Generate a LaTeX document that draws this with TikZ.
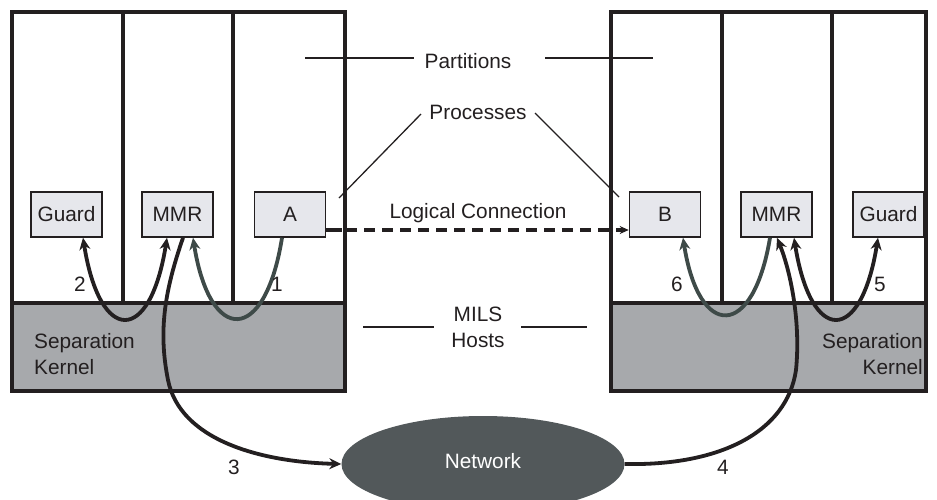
\documentclass[tikz,border=0pt]{standalone}
\usepackage{fontspec}
\setmainfont{Liberation Sans}
\usetikzlibrary{arrows.meta,shapes.geometric}
\definecolor{boxfill}{HTML}{E6E7EC}
\definecolor{kernelgray}{HTML}{A7A9AC}
\definecolor{netgray}{HTML}{52585A}
\definecolor{flowgray}{HTML}{3E4A48}
\definecolor{inkc}{HTML}{231F20}
\tikzset{
  every node/.style={font=\fontsize{20.8}{26}\selectfont, text=inkc},
  host/.style={line width=4pt, draw=inkc},
  divider/.style={line width=3.4pt, draw=inkc},
  procbox/.style={draw=inkc, line width=1.6pt, fill=boxfill, minimum width=71pt, minimum height=45pt, inner sep=0pt},
  leader/.style={line width=1.3pt, draw=inkc},
  flow/.style={line width=3.8pt, draw=inkc, -{Stealth[length=12pt,width=11pt]}},
  flowboth/.style={line width=3.8pt, draw=inkc, {Stealth[length=12pt,width=11pt]}-{Stealth[length=12pt,width=11pt]}},
  flowg/.style={line width=3.8pt, draw=flowgray, -{Stealth[length=12pt,width=11pt]}},
  steplabel/.style={inner sep=0pt}
}
\begin{document}
\begin{tikzpicture}[x=1pt,y=-1pt]
\useasboundingbox (0,0) rectangle (937,499);

% left host
\fill[kernelgray] (12,303) rectangle (345,391);
\draw[divider] (123,12) -- (123,303);
\draw[divider] (233,12) -- (233,303);
\draw[divider] (12,303) -- (345,303);
\draw[host] (12,12) rectangle (345,391);

% right host
\fill[kernelgray] (611,303) rectangle (926,391);
\draw[divider] (722,12) -- (722,303);
\draw[divider] (832,12) -- (832,303);
\draw[divider] (611,303) -- (926,303);
\draw[host] (611,12) rectangle (926,391);

% kernel captions
\node[anchor=north west, align=left, inner sep=0pt] (skl) at (34,333) {Separation\\Kernel};
\node[anchor=north east, align=right, inner sep=0pt] (skr) at (923,333) {Separation\\Kernel};

% processes
\node[procbox] (guardL) at (66.5,214.5) {Guard};
\node[procbox] (mmrL) at (177.5,214.5) {MMR};
\node[procbox] (procA) at (290,214.5) {A};
\node[procbox] (procB) at (665,214.5) {B};
\node[procbox] (mmrR) at (776.5,214.5) {MMR};
\node[procbox] (guardR) at (888.5,214.5) {Guard};

% network
\node[ellipse, fill=netgray, minimum width=283pt, minimum height=96pt, text=white] (net) at (483,464) {};
\node[text=white] (netlabel) at (483,461) {Network};

% annotations
\node (partitions) at (468,61) {Partitions};
\node (processes) at (478,112) {Processes};
\node (logical) at (478,213) {Logical Connection};
\node[align=center, inner sep=0pt, anchor=north] (mils) at (478,307) {MILS\\Hosts};

\coordinate (pl1) at (305,58);  \coordinate (pl2) at (414,58);
\coordinate (pr1) at (545,58);  \coordinate (pr2) at (653,58);
\draw[leader] (pl1) -- (pl2);
\draw[leader] (pr1) -- (pr2);
\coordinate (ql1) at (421,114); \coordinate (ql2) at (339,198);
\coordinate (qr1) at (535,113); \coordinate (qr2) at (619,197);
\draw[leader] (ql1) -- (ql2);
\draw[leader] (qr1) -- (qr2);
\coordinate (ml1) at (363,327); \coordinate (ml2) at (434,327);
\coordinate (mr1) at (521,327); \coordinate (mr2) at (587,327);
\draw[leader] (ml1) -- (ml2);
\draw[leader] (mr1) -- (mr2);

% logical connection A -> B
\coordinate (lcA) at (procA.east |- 0,230);
\coordinate (lcS) at (342,230);
\coordinate (lcB) at (procB.west |- 0,230);
\draw[line width=3.6pt, draw=inkc] (lcA) -- (lcS);
\draw[line width=3.6pt, draw=inkc, dash pattern=on 11pt off 7pt, dash phase=-4pt, -{Stealth[length=9pt,width=8pt]}] (lcS) -- (lcB);

% message flows, left host
\draw[flowg] (procA.south -| 282,0) .. controls (265,345) and (210,345) .. (mmrL.south -| 193,0);
\draw[flowboth] (guardL.south -| 83,0) .. controls (100,345) and (150,345) .. (mmrL.south -| 167,0);
\draw[flow] (mmrL.south -| 183,0) .. controls (165,290) and (158,330) .. (168,380)
  .. controls (180,440) and (260,462) .. (net.west);

% message flows, right host
\draw[flow] (net.east) .. controls (720,466) and (787,432) .. (796,370)
  .. controls (801,320) and (790,270) .. (mmrR.south -| 777,0);
\draw[flowboth] (mmrR.south -| 794,0) .. controls (811,345) and (861,345) .. (guardR.south -| 878,0);
\draw[flowg] (mmrR.south -| 770,0) .. controls (753,340) and (699,340) .. (procB.south -| 683,0);

% step numbers
\node[steplabel] (n1) at (277,284) {1};
\node[steplabel] (n2) at (80,284) {2};
\node[steplabel] (n3) at (234,467) {3};
\node[steplabel] (n4) at (723,467) {4};
\node[steplabel] (n5) at (880,284) {5};
\node[steplabel] (n6) at (677,284) {6};
\end{tikzpicture}
\end{document}
